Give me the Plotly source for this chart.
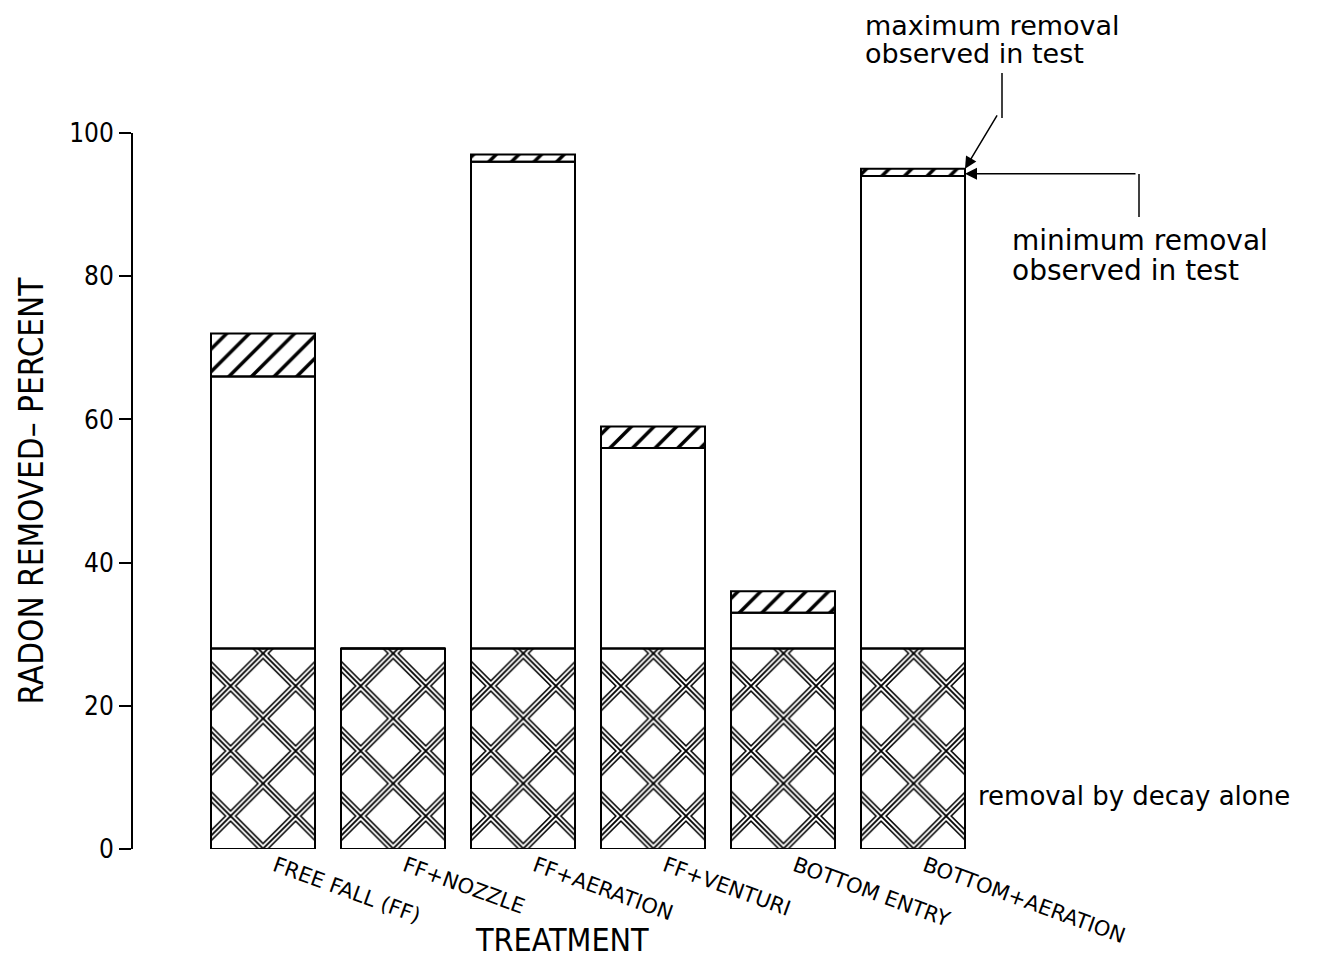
import plotly.graph_objects as go

# ---- data ----
treatments = ["FREE FALL (FF)", "FF+NOZZLE", "FF+AERATION", "FF+VENTURI",
              "BOTTOM ENTRY", "BOTTOM+AERATION"]
decay = [28, 28, 28, 28, 28, 28]
min_removal = [66, 28, 96, 56, 33, 94]
max_removal = [72, 28, 97, 59, 36, 95]
yticks = [0, 20, 40, 60, 80, 100]

xpos = list(range(len(treatments)))
white_h = [mn - d for mn, d in zip(min_removal, decay)]
hatch_h = [mx - mn for mx, mn in zip(max_removal, min_removal)]

W = 0.8
CLEAR = "rgba(0,0,0,0)"
fig = go.Figure()

# decay alone: triple-line crosshatch built from three concentric "x" patterns
for fg, bg, sol in [("black", "white", 0.34), ("white", CLEAR, 0.23), ("black", CLEAR, 0.08)]:
    fig.add_trace(go.Bar(
        x=xpos, y=decay, width=W,
        marker=dict(color=bg, opacity=1, line=dict(width=0),
                    pattern=dict(shape="x", size=46, solidity=sol, fgopacity=1,
                                 fgcolor=fg, bgcolor=bg)),
        showlegend=False, hoverinfo="skip"))

# minimum removal (white)
fig.add_trace(go.Bar(x=xpos, y=white_h, base=decay, width=W,
                     marker=dict(color="white", opacity=1, line=dict(width=0)),
                     showlegend=False))
# between min and max (diagonal hatch)
fig.add_trace(go.Bar(x=xpos, y=hatch_h, base=min_removal, width=W,
                     marker=dict(color="white", opacity=1, line=dict(width=0),
                                 pattern=dict(shape="/", size=16, solidity=0.22,
                                              fgopacity=1,
                                              fgcolor="black", bgcolor="white")),
                     showlegend=False))

# outlines on top
for ys, bs in [(decay, None), (white_h, decay), (hatch_h, min_removal)]:
    fig.add_trace(go.Bar(x=xpos, y=ys, base=bs, width=W,
                         marker=dict(color=CLEAR, opacity=1,
                                     line=dict(color="black", width=2)),
                         showlegend=False, hoverinfo="skip"))

FONT = "DejaVu Sans, sans-serif"
NARROW = "Liberation Sans Narrow, DejaVu Sans Condensed, sans-serif"

# page body has an 8px margin, so offsets are compensated here
L, T, PW, PH = 125, 125, 910, 716
fig.update_layout(
    barmode="overlay",
    width=1332, height=959,
    margin=dict(l=L, r=1332 - L - PW, t=T, b=959 - T - PH, autoexpand=False),
    paper_bgcolor="white", plot_bgcolor="white",
    font=dict(family=FONT, color="black"),
    xaxis=dict(range=[-1, 6], tickvals=xpos, ticktext=treatments,
               tickangle=20, showline=False, showgrid=False, zeroline=False,
               ticks="", tickfont=dict(size=21, family=FONT),
               ticklabelshift=12),
    yaxis=dict(range=[0, 100], tickvals=yticks, showline=True, linewidth=2,
               linecolor="black", ticks="outside", ticklen=12, tickwidth=2,
               tickcolor="black", showgrid=False, zeroline=False,
               tickfont=dict(size=26, family=NARROW),
               title=dict(text="RADON REMOVED\u2013 PERCENT",
                          font=dict(size=33, family=NARROW), standoff=16)),
)


def px(xp):
    return (xp - 133) / PW


def py(yp):
    return (849 - yp) / PH


def label(text, x, y, size, anchor="left", family=FONT):
    fig.add_annotation(xref="paper", yref="paper", x=px(x), y=py(y), text=text,
                       showarrow=False, xanchor=anchor, yanchor="middle",
                       font=dict(size=size, family=family))


label("TREATMENT", 562, 940, 32, anchor="center", family=NARROW)
label("maximum removal", 863, 25, 27)
label("observed in test", 863, 54, 27)
label("minimum removal", 1010, 240, 28)
label("observed in test", 1010, 270, 28)
label("removal by decay alone", 976, 796, 26)

# leader arrows
tip_x = xpos[-1] + W / 2
fig.add_annotation(x=tip_x, y=max_removal[-1], xref="x", yref="y", text="",
                   showarrow=True, arrowhead=2, arrowsize=1.6, arrowwidth=1.5,
                   arrowcolor="black", ax=33, ay=-55, axref="pixel", ayref="pixel")
fig.add_annotation(x=tip_x, y=min_removal[-1] + 0.3, xref="x", yref="y", text="",
                   showarrow=True, arrowhead=2, arrowsize=1.6, arrowwidth=1.5,
                   arrowcolor="black", ax=172, ay=0, axref="pixel", ayref="pixel")
fig.add_shape(type="line", xref="paper", yref="paper",
              x0=px(1002), x1=px(1002), y0=py(73), y1=py(118),
              line=dict(color="black", width=1.5))
fig.add_shape(type="line", xref="paper", yref="paper",
              x0=px(1139), x1=px(1139), y0=py(174), y1=py(217),
              line=dict(color="black", width=1.5))

fig.write_html("out.html")
